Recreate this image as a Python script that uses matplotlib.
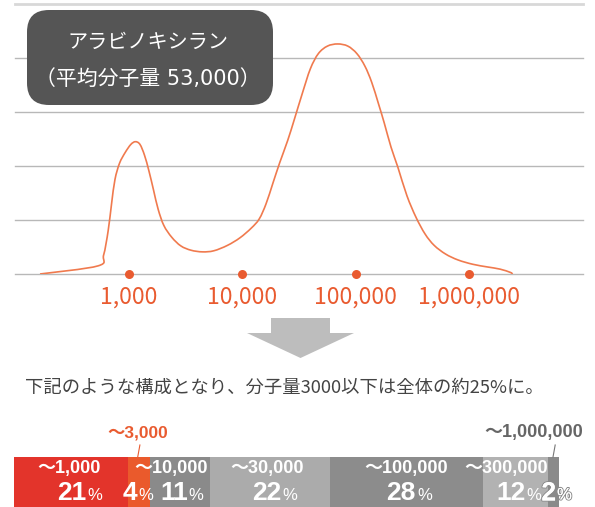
import numpy as np
from matplotlib import pyplot as plt
from matplotlib import transforms
from matplotlib.path import Path
from matplotlib.patches import FancyBboxPatch, FancyArrow, PathPatch
import matplotlib.patheffects as pe

plt.rcParams['font.family'] = ['Noto Sans CJK JP', 'DejaVu Sans']

# molecular weight distribution (log10 M, relative height)
log_mw = [2.22, 2.73, 2.78, 2.82, 2.85, 2.88, 2.92, 2.97, 3.02, 3.06, 3.10, 3.14,
          3.18, 3.22, 3.26, 3.31, 3.38, 3.46, 3.55, 3.65, 3.75, 3.87, 3.98, 4.08,
          4.15, 4.21, 4.27, 4.33, 4.40, 4.46, 4.53, 4.60, 4.67, 4.75, 4.84, 4.93,
          5.01, 5.08, 5.14, 5.20, 5.25, 5.31, 5.37, 5.45, 5.53, 5.61, 5.69, 5.79,
          5.90, 6.03, 6.16, 6.27, 6.36, 6.38]
height = [0.00, 0.15, 0.35, 0.80, 1.30, 1.75, 2.05, 2.25, 2.40, 2.45, 2.40, 2.20,
          1.90, 1.55, 1.20, 0.90, 0.68, 0.52, 0.44, 0.41, 0.43, 0.53, 0.67, 0.85,
          1.02, 1.30, 1.68, 2.06, 2.47, 2.87, 3.35, 3.80, 4.08, 4.22, 4.26, 4.22,
          4.08, 3.85, 3.55, 3.15, 2.80, 2.35, 1.98, 1.45, 1.05, 0.74, 0.53, 0.37,
          0.26, 0.18, 0.13, 0.09, 0.03, 0.00]

tick_mw = [1000, 10000, 100000, 1000000]
tick_labels = ['1,000', '10,000', '100,000', '1,000,000']

# composition bar
ranges = ['〜1,000', '〜3,000', '〜10,000', '〜30,000', '〜100,000', '〜300,000', '〜1,000,000']
shares = [21, 4, 11, 22, 28, 12, 2]

title = 'アラビノキシラン'
subtitle = '（平均分子量 53,000）'
sentence = '下記のような構成となり、分子量3000以下は全体の約25%に。'

ORANGE = '#e95b30'
CURVE = '#f07a4e'
seg_colors = ['#e3342b', '#ea5a2c', '#8a8a8a', '#ababab', '#8c8c8c', '#b2b2b2', '#8a8a8a']

W, H = 595, 507
fig = plt.figure(figsize=(W / 100, H / 100), dpi=100)

# ---- distribution curve
ax = fig.add_axes([15 / W, (H - 274) / H, 568 / W, 270 / H])
ax.set_xscale('log')
ax.set_xlim(1e2, 1e7)
ax.set_ylim(0, 5)
for s in ax.spines.values():
    s.set_visible(False)
ax.set_yticks([])
for lvl in range(5):
    ax.axhline(lvl, color='#b8b8b8', lw=1, zorder=1, clip_on=False)
ax.axhline(5, color='#d8d8d8', lw=2, zorder=1, clip_on=False)


def smooth_path(xs, ys):
    # catmull-rom through the read points, drawn as cubic beziers
    p = np.column_stack([xs, ys])
    p = np.vstack([p[0], p, p[-1]])
    verts = [p[1]]
    codes = [Path.MOVETO]
    for i in range(1, len(p) - 2):
        c1 = p[i] + (p[i + 1] - p[i - 1]) / 6
        c2 = p[i + 1] - (p[i + 2] - p[i]) / 6
        verts += [c1, c2, p[i + 1]]
        codes += [Path.CURVE4] * 3
    verts = np.array(verts)
    verts[:, 0] = 10 ** verts[:, 0]
    return Path(verts, codes)


ax.add_patch(PathPatch(smooth_path(log_mw, height), fc='none', ec=CURVE, lw=1.2, zorder=3))
ax.plot(tick_mw, [0] * len(tick_mw), 'o', color=ORANGE, ms=6.5, mec='none',
        zorder=4, clip_on=False)
ax.set_xticks(tick_mw)
ax.set_xticklabels(tick_labels, color=ORANGE, fontsize=16.5)
ax.xaxis.set_minor_locator(plt.NullLocator())
ax.tick_params(axis='x', length=0, pad=8)

# ---- overlay in pixel units for box, arrow and sentence
ov = fig.add_axes([0, 0, 1, 1], zorder=5)
ov.set_xlim(0, W)
ov.set_ylim(H, 0)
ov.axis('off')
ov.patch.set_alpha(0)

box = FancyBboxPatch((27, 10), 246, 95, boxstyle='round,pad=0,rounding_size=22',
                     fc='#555555', ec='none')
ov.add_patch(box)
ov.text(148, 42, title, color='white', fontsize=14.5, ha='center', va='center')
ov.text(148, 79, subtitle, color='white', fontsize=15, ha='center', va='center',
        family=['DejaVu Sans', 'Noto Sans CJK JP'])

ov.add_patch(FancyArrow(300.5, 318, 0, 40, width=59, head_width=107, head_length=25,
                        length_includes_head=True, fc='#bdbdbd', ec='none'))

ov.text(25, 388, sentence, color='#444444', fontsize=13.2, ha='left', va='center')

# ---- stacked composition bar
bx = fig.add_axes([14 / W, 0, 545 / W, 50 / H])
bx.set_xlim(0, 100)
bx.set_ylim(0, 1)
bx.axis('off')
lefts = np.concatenate([[0], np.cumsum(shares)[:-1]])
bx.barh(0.5, shares, left=lefts, height=1, color=seg_colors, edgecolor='none')

centers = lefts + np.array(shares) / 2
xt = bx.get_xaxis_transform()


def shifted(dx, dy=0):
    return transforms.offset_copy(xt, fig=fig, x=dx, y=dy, units='dots')


bold_fam = ['Liberation Sans', 'Noto Sans CJK JP']

# inside labels (pixel shift from segment centre)
range_shift = [-2.5, None, -9.5, -3, -0.5, -9.5, None]
pct_split = [15.5, -2, 7.5, 11, 9.5, 10, 2.5]
for i, (lab, sh) in enumerate(zip(ranges, shares)):
    if range_shift[i] is not None:
        bx.text(centers[i], 0.76, lab, transform=shifted(range_shift[i]),
                color='white', fontsize=13, fontweight='bold', ha='center', va='center',
                family=bold_fam)
    t1 = bx.text(centers[i], 0.27, str(sh), transform=shifted(pct_split[i]),
                 color='white', fontsize=19, fontweight='bold', ha='right', va='center',
                 family=bold_fam, clip_on=False)
    t2 = bx.text(centers[i], 0.24, '%', transform=shifted(pct_split[i] + 1),
                 color='white', fontsize=12, ha='left', va='center', family=bold_fam,
                 clip_on=False)
    if i == len(shares) - 1:
        for t in (t1, t2):
            t.set_path_effects([pe.withStroke(linewidth=1.5, foreground='#8a8a8a'), pe.Normal()])

# labels above the bar with leader lines
bx.plot([centers[1] + 0.1, centers[1] - 0.3], [1.24, 1.0], color=ORANGE, lw=0.8, clip_on=False)
bx.text(centers[1], 1.49, ranges[1], color=ORANGE, fontsize=12.5, fontweight='bold',
        ha='center', va='center', transform=shifted(-1.5), family=bold_fam)
bx.plot([centers[6] + 0.3, centers[6] - 0.1], [1.24, 1.0], color='#777777', lw=0.8, clip_on=False)
bx.text(centers[6], 1.49, ranges[6], color='#666666', fontsize=13, fontweight='bold',
        ha='right', va='center', transform=shifted(29.5), family=bold_fam)

fig.savefig('out.png', dpi=100)
